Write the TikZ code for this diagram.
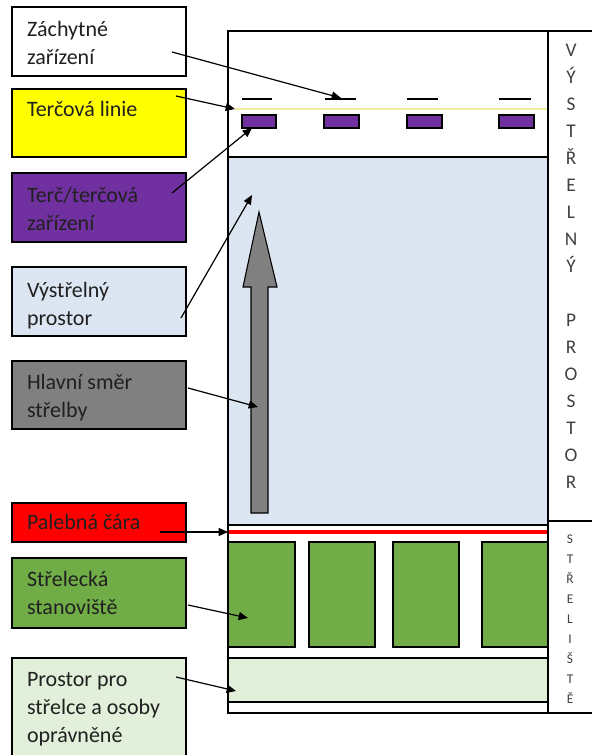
\documentclass[tikz,border=0pt]{standalone}
\usepackage{fontspec}
\setmainfont{Carlito}
\usetikzlibrary{arrows.meta}
\definecolor{cpurple}{HTML}{7030A0}
\definecolor{cyellow}{HTML}{FFFF00}
\definecolor{clblue}{HTML}{DCE6F2}
\definecolor{cgray}{HTML}{808080}
\definecolor{cred}{HTML}{FF0000}
\definecolor{cgreen}{HTML}{70AD47}
\definecolor{clgreen}{HTML}{E2EFDA}
\definecolor{cpaleyel}{HTML}{F4EE9A}
\definecolor{ctext}{HTML}{202020}
\definecolor{cside}{HTML}{404040}
\begin{document}
\begin{tikzpicture}[x=0.75pt,y=-0.75pt,
  lbox/.style={draw=black,line width=1.1pt,anchor=north west,inner sep=0pt,outer sep=0pt,minimum width=130.5pt},
  ltext/.style={anchor=north west,inner sep=0pt,outer sep=0pt,align=left,text=ctext,font=\fontsize{16.5}{21}\selectfont},
  conn/.style={line width=0.9pt,-{Triangle[length=7pt,width=6pt]}},
  frameline/.style={line width=1.5pt},
  slot/.style={draw=black,line width=1pt,fill=cgreen},
  tgt/.style={draw=black,line width=0.8pt,fill=cpurple},
  dashmark/.style={line width=1pt}
]
\useasboundingbox (0,0) rectangle (592,755);

% ---------- main plan ----------
\fill[clblue] (228,157) rectangle (548,525);
\fill[clgreen] (228,658) rectangle (548,702);

% target line and targets
\draw[cpaleyel,line width=1.8pt] (235,109) -- (548,109);
\draw[dashmark] (242,99) -- (272,99);
\draw[dashmark] (325,99) -- (356,99);
\draw[dashmark] (407,99) -- (438,99);
\draw[dashmark] (499,99) -- (531,99);
\draw[tgt] (242,115) rectangle (276,128);
\draw[tgt] (324,115) rectangle (359,128);
\draw[tgt] (407,115) rectangle (442,128);
\draw[tgt] (499,115) rectangle (534,128);

% firing line
\draw[cred,line width=2.4pt] (228,532) -- (548,532);

% shooting stands
\draw[slot] (228,542) rectangle (295,647);
\draw[slot] (309,542) rectangle (375,647);
\draw[slot] (393,542) rectangle (459,647);
\draw[slot] (482,542) rectangle (548,647);

% internal lines
\draw[frameline] (228,157) -- (548,157);
\draw[frameline] (228,525) -- (548,525);
\draw[frameline] (228,658) -- (548,658);
\draw[frameline] (228,702) -- (548,702);

% outer frame and side column
\draw[frameline] (592,31) -- (228,31) -- (228,713) -- (592,713);
\draw[frameline] (548,31) -- (548,713);
\draw[frameline] (548,521) -- (592,521);

% main direction arrow
\draw[fill=cgray,line width=0.8pt] (251,513) -- (268,513) -- (268,287) -- (277,287) -- (259,212) -- (243,287) -- (251,287) -- cycle;

% side labels
\node[anchor=north,inner sep=0pt,align=center,text=cside,font=\fontsize{14.5}{20.25}\selectfont] (sidetop) at (571,37.5)
 {\strut V\\\strut Ý\\\strut S\\\strut T\\\strut Ř\\\strut E\\\strut L\\\strut N\\\strut Ý\\\strut \\\strut P\\\strut R\\\strut O\\\strut S\\\strut T\\\strut O\\\strut R};
\node[anchor=north,inner sep=0pt,align=center,text=cside,font=\fontsize{10}{15}\selectfont] (sidebot) at (570,529.5)
 {\strut S\\\strut T\\\strut Ř\\\strut E\\\strut L\\\strut I\\\strut Š\\\strut T\\\strut Ě};

% ---------- legend boxes ----------
\node[lbox,fill=white,minimum height=51.75pt] (bzach) at (12,7) {};
\node[lbox,fill=cyellow,minimum height=51pt] (blinie) at (12,89) {};
\node[lbox,fill=cpurple,minimum height=51.75pt] (bterc) at (12,173) {};
\node[lbox,fill=clblue,minimum height=51.75pt] (bvyst) at (12,267) {};
\node[lbox,fill=cgray,minimum height=51pt] (bhlav) at (12,361) {};
\node[lbox,fill=cred,minimum height=29.25pt] (bpal) at (12,503) {};
\node[lbox,fill=cgreen,minimum height=52.5pt] (bstrel) at (12,558) {};
\node[lbox,fill=clgreen,minimum height=78pt] (bpros) at (12,658) {};

\node[ltext] (tzach) at (27,17) {\strut Záchytné\\\strut zařízení};
\node[ltext] (tlinie) at (27,97) {\strut Terčová linie};
\node[ltext] (tterc) at (27,183) {\strut Terč/terčová\\\strut zařízení};
\node[ltext] (tvyst) at (27,278) {\strut Výstřelný\\\strut prostor};
\node[ltext] (thlav) at (27,370) {\strut Hlavní směr\\\strut střelby};
\node[ltext] (tpal) at (27,510) {\strut Palebná čára};
\node[ltext] (tstrel) at (27,567) {\strut Střelecká\\\strut stanoviště};
\node[ltext] (tpros) at (27,667) {\strut Prostor pro\\\strut střelce a osoby\\\strut oprávněné};

% ---------- connectors ----------
\coordinate (s1) at (172,52);  \coordinate (e1) at (341,98);
\coordinate (s2) at (176,96);  \coordinate (e2) at (235,109);
\coordinate (s3) at (172,193); \coordinate (e3) at (252,128);
\coordinate (s4) at (181,318); \coordinate (e4) at (252,195);
\coordinate (s5) at (188,388); \coordinate (e5) at (258,407);
\coordinate (s6) at (160,532); \coordinate (e6) at (228,532);
\coordinate (s7) at (188,605); \coordinate (e7) at (248,618);
\coordinate (s8) at (176,677); \coordinate (e8) at (236,691);
\draw[conn] (s1) -- (e1);
\draw[conn] (s2) -- (e2);
\draw[conn] (s3) -- (e3);
\draw[conn] (s4) -- (e4);
\draw[conn] (s5) -- (e5);
\draw[conn] (s6) -- (e6);
\draw[conn] (s7) -- (e7);
\draw[conn] (s8) -- (e8);
\end{tikzpicture}
\end{document}
